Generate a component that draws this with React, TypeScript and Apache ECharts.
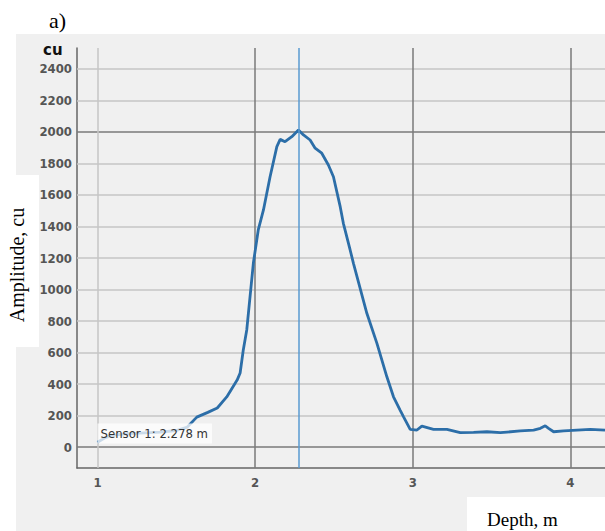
import React, { useEffect, useRef } from 'react';
import * as echarts from 'echarts';

const depth = [1.0, 1.05, 1.1, 1.2, 1.3, 1.4, 1.5, 1.57, 1.63, 1.7, 1.76, 1.82, 1.886, 1.905, 1.925, 1.947, 1.989, 2.02, 2.053, 2.095, 2.138, 2.159, 2.19, 2.233, 2.275, 2.307, 2.349, 2.381, 2.423, 2.465, 2.497, 2.54, 2.56, 2.603, 2.624, 2.709, 2.773, 2.836, 2.878, 2.92, 2.942, 2.984, 3.027, 3.058, 3.132, 3.217, 3.302, 3.386, 3.471, 3.556, 3.598, 3.683, 3.767, 3.81, 3.841, 3.862, 3.894, 3.958, 4.042, 4.127, 4.22];
const amplitude = [30, 60, 75, 85, 90, 95, 105, 127, 190, 220, 248, 318, 425, 470, 616, 743, 1168, 1378, 1505, 1716, 1907, 1953, 1938, 1970, 2013, 1981, 1949, 1897, 1865, 1790, 1716, 1526, 1420, 1251, 1166, 849, 658, 446, 319, 235, 192, 112, 108, 133, 112, 112, 91, 93, 97, 91, 95, 102, 108, 119, 135, 119, 97, 103, 108, 112, 108];
const yTicks = [0, 200, 400, 600, 800, 1000, 1200, 1400, 1600, 1800, 2000, 2200, 2400];
const xTicks = [1, 2, 3, 4];
const majorY = [0, 2000];
const majorX = [2, 3, 4];
const cursorDepth = 2.278;
const cursorLabel = 'Sensor 1: 2.278 m';

export default function App() {
  const ref = useRef<HTMLDivElement>(null);
  useEffect(() => {
    document.body.style.margin = '0';
    const chart = echarts.init(ref.current!, null, { renderer: 'svg' });
    const labelFont = "'DejaVu Sans Condensed', 'Liberation Sans Narrow', 'DejaVu Sans', sans-serif";
    const gridData: any[] = [
      ...yTicks.map((v) => ({ yAxis: v, lineStyle: { color: majorY.includes(v) ? '#7a7a7a' : '#c6c6c6', width: 1.5, type: 'solid' } })),
      ...xTicks.map((v) => ({ xAxis: v, lineStyle: { color: majorX.includes(v) ? '#7a7a7a' : '#c6c6c6', width: 1.5, type: 'solid' } })),
    ];
    chart.setOption({
      animation: false,
      backgroundColor: '#ffffff',
      grid: { left: 77, top: 48, right: 0, bottom: 63, containLabel: false, outerBoundsMode: 'none' },
      xAxis: {
        type: 'value',
        min: 0.87,
        max: 4.22,
        splitLine: { show: false },
        axisTick: { show: false },
        axisLine: { show: true, onZero: false, lineStyle: { color: '#666', width: 1.5 } },
        axisLabel: { customValues: xTicks, formatter: (v: number) => String(v), color: '#555', fontWeight: 'bold', fontSize: 13, fontFamily: labelFont, margin: 8 },
      },
      yAxis: {
        type: 'value',
        min: -133,
        max: 2533,
        splitLine: { show: false },
        axisTick: { show: false },
        axisLine: { show: true, onZero: false, lineStyle: { color: '#666', width: 1.5 } },
        axisLabel: { customValues: yTicks, formatter: (v: number) => String(v), color: '#555', fontWeight: 'bold', fontSize: 13, fontFamily: labelFont, margin: 5 },
      },
      graphic: [
        { type: 'rect', z: -10, shape: { x: 16, y: 34, width: 589, height: 497 }, style: { fill: '#f0f0f0' } },
        { type: 'text', x: 49, y: 9, style: { text: 'a)', font: '22px "Liberation Serif", "Times New Roman", serif', fill: '#000' } },
        { type: 'text', x: 43, y: 42, style: { text: 'cu', font: 'bold 15px "DejaVu Sans", sans-serif', fill: '#111' } },
        { type: 'rect', z: 10, shape: { x: 0, y: 175, width: 39, height: 172 }, style: { fill: '#ffffff' } },
        { type: 'text', z: 11, x: 17, y: 265, rotation: Math.PI / 2, style: { text: 'Amplitude, cu', font: '20px "Liberation Serif", "Times New Roman", serif', fill: '#000', align: 'center', verticalAlign: 'middle' } },
        { type: 'rect', z: 10, shape: { x: 467, y: 497, width: 138, height: 34 }, style: { fill: '#ffffff' } },
        { type: 'text', z: 11, x: 487, y: 519, style: { text: 'Depth, m', font: '19px "Liberation Serif", "Times New Roman", serif', fill: '#000', verticalAlign: 'middle' } },
      ],
      series: [
        {
          type: 'line',
          data: [],
          z: 1,
          markLine: { silent: true, symbol: ['none', 'none'], z: 1, label: { show: false }, data: gridData },
        },
        {
          type: 'line',
          data: depth.map((d, i) => [d, amplitude[i]]),
          showSymbol: false,
          symbol: 'none',
          z: 3,
          lineStyle: { color: '#2c6ea8', width: 2.8 },
          markLine: {
            silent: true,
            symbol: ['none', 'none'],
            z: 4,
            label: { show: false },
            data: [{ xAxis: cursorDepth, lineStyle: { color: '#5a9bd2', width: 1.5, type: 'solid' } }],
          },
          markPoint: {
            silent: true,
            z: 6,
            symbol: 'rect',
            symbolSize: 1,
            itemStyle: { color: 'rgba(0,0,0,0)' },
            data: [{ coord: [0.997, 86] }],
            label: {
              show: true,
              position: 'right',
              distance: 0,
              formatter: cursorLabel,
              color: '#333',
              fontSize: 13,
              fontFamily: labelFont,
              backgroundColor: 'rgba(255,255,255,0.75)',
              padding: [4, 4, 3, 3],
            },
          },
        },
      ],
    });
    return () => chart.dispose();
  }, []);
  return <div ref={ref} style={{ width: 605, height: 531 }} />;
}
